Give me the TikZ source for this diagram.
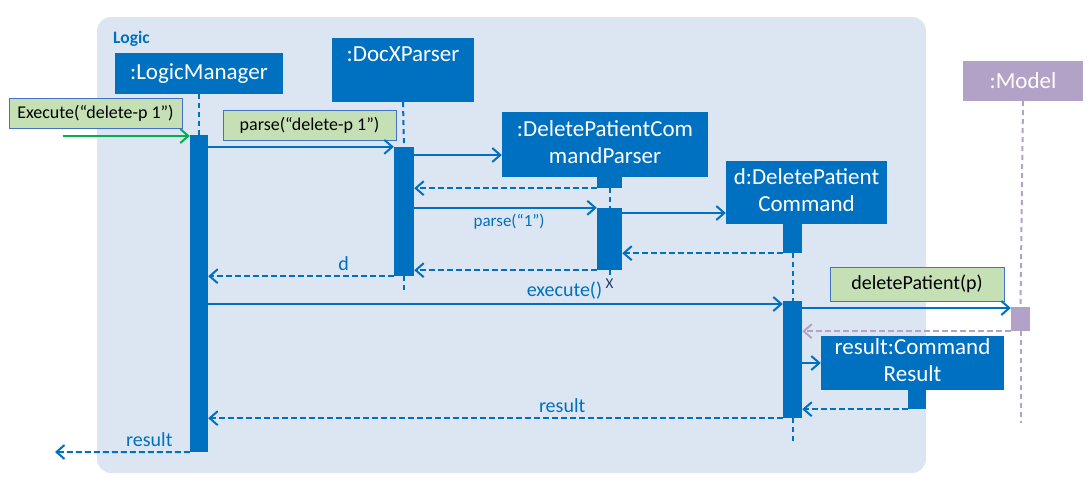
\documentclass[tikz,border=0pt]{standalone}
\usepackage{fontspec}
\setmainfont{Carlito}
\usetikzlibrary{arrows.meta}
\definecolor{umlblue}{HTML}{0070C0}
\definecolor{framebg}{HTML}{DCE6F2}
\definecolor{notegreen}{HTML}{C5E0B4}
\definecolor{noteedge}{HTML}{4472C4}
\definecolor{modelpurple}{HTML}{B3A2C7}
\definecolor{startgreen}{HTML}{00B050}
\definecolor{xnavy}{HTML}{1F3864}
\begin{document}
\begin{tikzpicture}[x=1pt, y=-1pt,
	head/.style={fill=umlblue, text=white, font=\fontsize{23}{27}\selectfont, inner sep=0pt, align=center},
	bar/.style={fill=umlblue, inner sep=0pt},
	note/.style={fill=notegreen, draw=noteedge, line width=0.8pt, font=\fontsize{18}{21}\selectfont, inner sep=0pt},
	msg/.style={umlblue, line width=2pt, -{Straight Barb[length=8pt,width=14pt]}},
	ret/.style={msg, dash pattern=on 6pt off 3pt},
	life/.style={umlblue, line width=2pt, dash pattern=on 5pt off 4pt},
	lbl/.style={text=umlblue, font=\fontsize{20}{23}\selectfont, inner sep=0pt}]
	\useasboundingbox (0,0) rectangle (1089,485);
	\node[fill=framebg, rounded corners=14pt, minimum width=829, minimum height=456, inner sep=0pt] (logic) at (511.5,245) {};
	\node[anchor=north west, text=umlblue, font=\bfseries\fontsize{17.5}{20}\selectfont, inner sep=0pt] (logictitle) at (113,31) {Logic};
	% lifeline heads
	\node[head, minimum width=168, minimum height=41] (lm) at (199,73.5) {:LogicManager};
	\node[head, minimum width=142, minimum height=64] (dx) at (403,70) {\strut:DocXParser\\\strut};
	\node[head, minimum width=206, minimum height=65] (dpcp) at (605,144.5) {\strut:DeletePatientCom\\\strut mandParser};
	\node[head, minimum width=161, minimum height=63] (dpc) at (806.5,192.5) {\strut d:DeletePatient\\\strut Command};
	\node[head, fill=modelpurple, minimum width=120, minimum height=40] (model) at (1023,81) {:Model};
	\node[head, minimum width=183, minimum height=54] (res) at (912.5,363) {\strut result:Command\\\strut Result};
	% activation bars
	\node[bar, minimum width=18, minimum height=317] (lmbar) at (199,293.5) {};
	\node[bar, minimum width=20, minimum height=129] (dxbar) at (404,211.5) {};
	\node[bar, minimum width=25, minimum height=11] (dpcptail) at (609.5,182.5) {};
	\node[bar, minimum width=25, minimum height=62] (dpcpbar) at (609.5,239) {};
	\node[bar, minimum width=19, minimum height=29] (dpctail) at (792.5,238.5) {};
	\node[bar, minimum width=19, minimum height=117] (dpcbar) at (792.5,359.5) {};
	\node[bar, fill=modelpurple, minimum width=19, minimum height=24] (modelbar) at (1020.5,319) {};
	\node[bar, minimum width=18, minimum height=19] (restail) at (917,399.5) {};
	\node[text=xnavy, font=\fontsize{15}{17}\selectfont, inner sep=0pt] (dpcpend) at (609.5,284) {X};
	% lifelines
	\draw[life] (lm.south) -- (lmbar.north);
	\draw[life] (dx.south) -- (dxbar.north);
	\draw[life] (dxbar.south) -- ++(0,14);
	\draw[life] (dpcptail.south) -- (dpcpbar.north);
	\draw[life] (dpcpbar.south) -- (dpcpend.north);
	\draw[life] (dpctail.south) -- (dpcbar.north);
	\draw[life] (dpcbar.south) -- ++(0,25);
	\draw[life, modelpurple] (model.south) -- (modelbar.north);
	\draw[life, modelpurple] (modelbar.south) -- ++(0,92);
	% messages
	\coordinate (start) at (63,136);
	\coordinate (finish) at (55,452);
	\node[note, minimum width=173, minimum height=30] (execnote) at (95.5,113) {Execute(“delete-p 1”)};
	\draw[msg, startgreen] (start) -- (start -| lmbar.west);
	\node[note, minimum width=173, minimum height=30] (parsenote) at (309.5,125) {parse(“delete-p 1”)};
	\draw[msg] (lmbar.east |- dxbar.north) -- (dxbar.north west);
	\draw[msg] (dxbar.east |- 0,155) -- (dpcp.west |- 0,155);
	\draw[ret] (dpcptail.south west) -- (dxbar.east |- dpcptail.south);
	\draw[msg] (dxbar.east |- dpcpbar.north) -- (dpcpbar.north west) node[lbl, font=\fontsize{17}{20}\selectfont, pos=0.52, below=5pt] {parse(“1”)};
	\draw[msg] (dpcpbar.east |- 0,213) -- (dpc.west |- 0,213);
	\draw[ret] (dpctail.south west) -- (dpcpbar.east |- dpctail.south);
	\draw[ret] (dpcpbar.south west) -- (dxbar.east |- dpcpbar.south);
	\draw[ret] (dxbar.south west) -- (lmbar.east |- dxbar.south) node[lbl, pos=0.27, above=5pt] {d};
	\draw[msg] (lmbar.east |- 0,304) -- (dpcbar.west |- 0,304) node[lbl, pos=0.62, above=4pt] {execute()};
	\node[note, font=\fontsize{20}{23}\selectfont, minimum width=174, minimum height=34] (delnote) at (917,284) {deletePatient(p)};
	\draw[msg] (dpcbar.east |- 0,308) -- (modelbar.west |- 0,308);
	\draw[ret, modelpurple] (modelbar.south west) -- (dpcbar.east |- modelbar.south);
	\draw[msg] (dpcbar.east |- res.west) -- (res.west);
	\draw[ret] (restail.south west) -- (dpcbar.east |- restail.south);
	\draw[ret] (dpcbar.south west) -- (lmbar.east |- dpcbar.south) node[lbl, pos=0.384, above=5pt] {result};
	\draw[ret] (lmbar.south west) -- (finish) node[lbl, pos=0.3, above=5pt] {result};
\end{tikzpicture}
\end{document}
